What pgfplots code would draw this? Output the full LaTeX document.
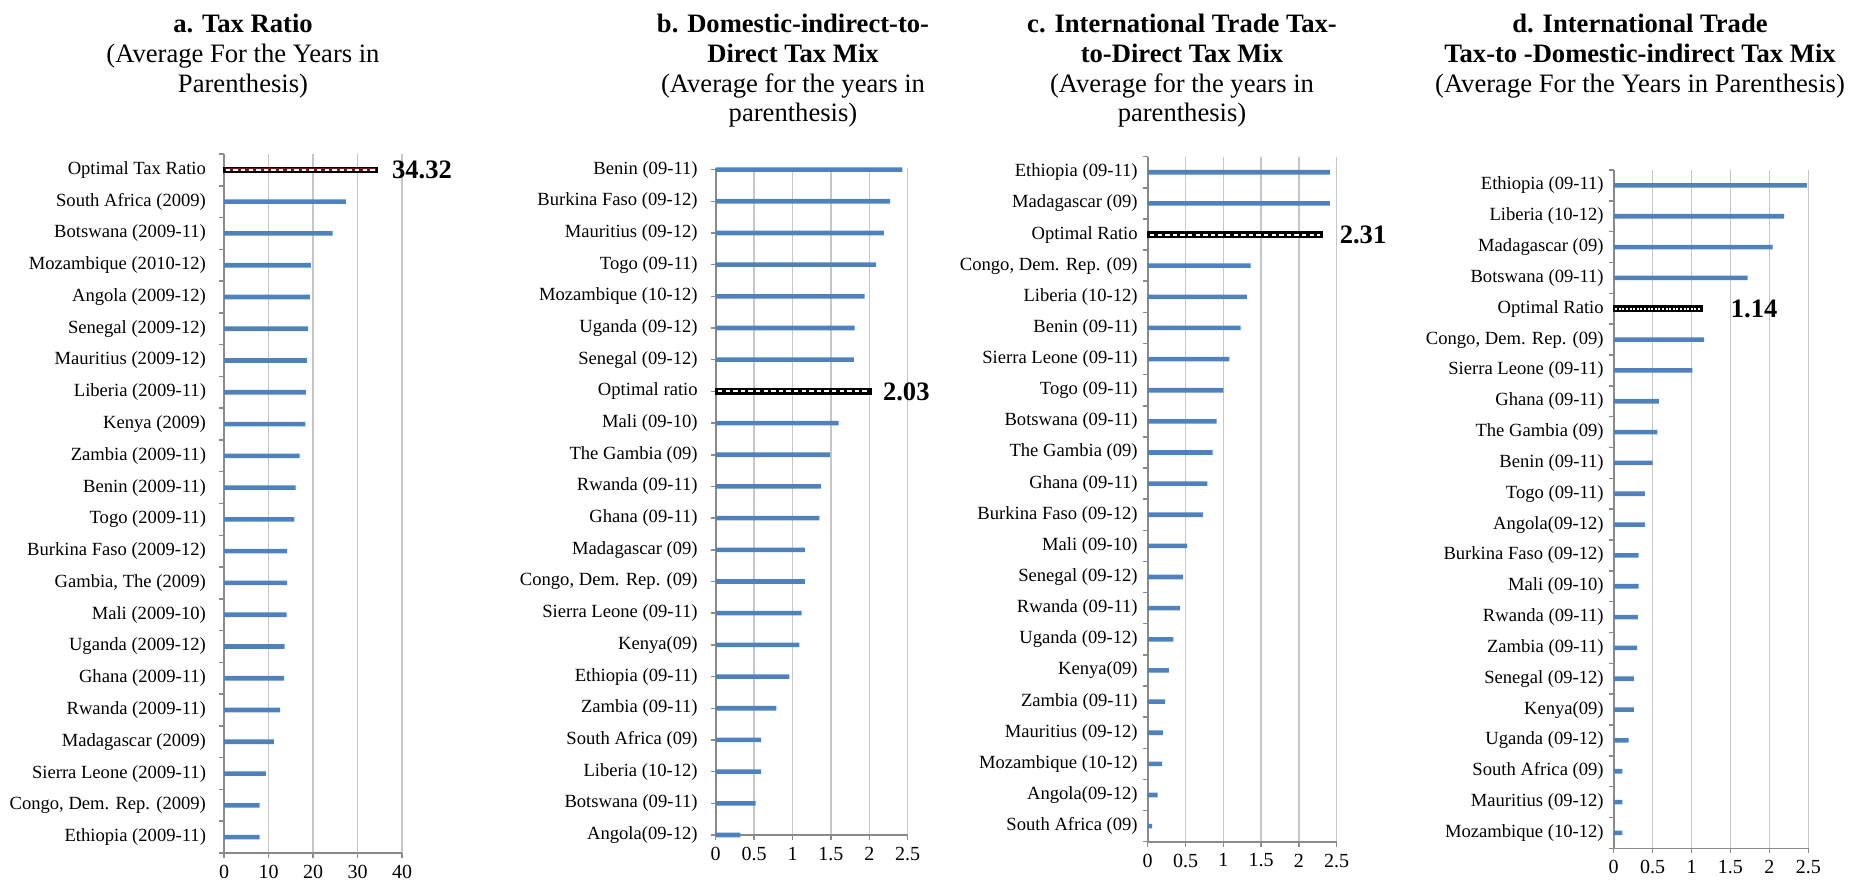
\documentclass[border=0pt]{standalone}
\usepackage{pgfplots}
\pgfplotsset{compat=1.18}
\usepackage{fontspec}
\setmainfont{Liberation Serif}
\definecolor{barblue}{HTML}{4F81BD}
\definecolor{gridgray}{HTML}{C6C6C6}
\definecolor{axisgray}{HTML}{8A8A8A}
\definecolor{optred}{HTML}{6E1A1A}
\pgfplotsset{
  panel/.style={
    scale only axis, clip=false,
    axis x line*=bottom, axis y line*=left,
    axis line style={-, draw=axisgray, line width=0.8pt},
    xmin=0, xmajorgrids, major grid style={draw=gridgray, line width=0.75pt},
    tick align=outside, major tick length=2.5pt, minor tick length=2.5pt,
    tick style={draw=axisgray, line width=0.75pt},
    xticklabel style={font=\fontsize{10}{12}\selectfont, /pgf/number format/assume math mode=true},
    yticklabel style={font=\fontsize{9.3}{11}\selectfont},
    ytick={0,...,21},
  },
  between/.style={ymin=-0.5, ymax=21.5, ytick style={draw=none},
    minor ytick={-0.5,0.5,...,21.5},
    every minor y tick/.append style={draw=axisgray, line width=0.75pt}},
  bars/.style={xbar, bar width=2.3pt, bar shift=0pt, fill=barblue, draw=none},
  optbar/.style={xbar, bar width=2.4pt, bar shift=0pt, fill=black, draw=black, line width=0.8pt},
  optdash/.style={white, line width=1pt, dash pattern=on 2.2pt off 1.6pt},
}
\newcommand{\vlab}{\bfseries\fontsize{13.3}{15}\selectfont}
\begin{document}
\begin{tikzpicture}
\path[use as bounding box] (0,0) rectangle (931.5pt,444.5pt);

% ---------------- Panel a
\begin{axis}[panel, between, at={(112pt,18pt)}, anchor=south west,
  width=89pt, height=349.5pt, xmax=40, xtick={0,10,20,30,40},
  yticklabels={{Ethiopia (2009-11)},{Congo, Dem. Rep. (2009)},{Sierra Leone (2009-11)},{Madagascar (2009)},{Rwanda (2009-11)},{Ghana (2009-11)},{Uganda (2009-12)},{Mali (2009-10)},{Gambia, The (2009)},{Burkina Faso (2009-12)},{Togo (2009-11)},{Benin (2009-11)},{Zambia (2009-11)},{Kenya (2009)},{Liberia (2009-11)},{Mauritius (2009-12)},{Senegal (2009-12)},{Angola (2009-12)},{Mozambique (2010-12)},{Botswana (2009-11)},{South Africa (2009)},{Optimal Tax Ratio}},
  yticklabel style={xshift=-3pt}]
\addplot[bars] coordinates {(8.0,0) (8.0,1) (9.4,2) (11.2,3) (12.6,4) (13.5,5) (13.6,6) (14.1,7) (14.2,8) (14.2,9) (15.8,10) (16.1,11) (17.0,12) (18.3,13) (18.4,14) (18.6,15) (18.9,16) (19.3,17) (19.5,18) (24.4,19) (27.4,20)};
\addplot[optbar, fill=optred] coordinates {(34.32,21)};
\addplot[optdash] coordinates {(0.4,21) (34.0,21)};
\node[anchor=west, inner sep=0pt, font=\vlab] at (axis cs:34.32,21) [xshift=7.5pt] {34.32};
\end{axis}

% ---------------- Panel b
\begin{axis}[panel, at={(357.85pt,27pt)}, anchor=south west,
  width=96pt, height=333.5pt, xmax=2.5, xtick={0,0.5,1,1.5,2,2.5},
  ymin=0, ymax=21.05,
  yticklabels={{Angola(09-12)},{Botswana (09-11)},{Liberia (10-12)},{South Africa (09)},{Zambia (09-11)},{Ethiopia (09-11)},{Kenya(09)},{Sierra Leone (09-11)},{Congo, Dem. Rep. (09)},{Madagascar (09)},{Ghana (09-11)},{Rwanda (09-11)},{The Gambia (09)},{Mali (09-10)},{Optimal ratio},{Senegal (09-12)},{Uganda (09-12)},{Mozambique (10-12)},{Togo (09-11)},{Mauritius (09-12)},{Burkina Faso (09-12)},{Benin (09-11)}},
  yticklabel style={xshift=-3pt}]
\addplot[bars] coordinates {(0.32,0) (0.52,1) (0.59,2) (0.59,3) (0.79,4) (0.96,5) (1.09,6) (1.12,7) (1.16,8) (1.16,9) (1.35,10) (1.37,11) (1.49,12) (1.60,13) (1.80,15) (1.81,16) (1.94,17) (2.09,18) (2.19,19) (2.27,20) (2.43,21)};
\addplot[optbar] coordinates {(2.03,14)};
\addplot[optdash] coordinates {(0.03,14) (2.0,14)};
\node[anchor=west, inner sep=0pt, font=\vlab] at (axis cs:2.03,14) [xshift=5.5pt] {2.03};
\end{axis}

% ---------------- Panel c
\begin{axis}[panel, between, at={(573.85pt,23.65pt)}, anchor=south west,
  width=94.5pt, height=342.5pt, xmax=2.5, xtick={0,0.5,1,1.5,2,2.5},
  yticklabels={{South Africa (09)},{Angola(09-12)},{Mozambique (10-12)},{Mauritius (09-12)},{Zambia (09-11)},{Kenya(09)},{Uganda (09-12)},{Rwanda (09-11)},{Senegal (09-12)},{Mali (09-10)},{Burkina Faso (09-12)},{Ghana (09-11)},{The Gambia (09)},{Botswana (09-11)},{Togo (09-11)},{Sierra Leone (09-11)},{Benin (09-11)},{Liberia (10-12)},{Congo, Dem. Rep. (09)},{Optimal Ratio},{Madagascar (09)},{Ethiopia (09-11)}},
  yticklabel style={xshift=1pt}]
\addplot[bars] coordinates {(0.06,0) (0.13,1) (0.19,2) (0.20,3) (0.23,4) (0.28,5) (0.34,6) (0.43,7) (0.47,8) (0.52,9) (0.73,10) (0.79,11) (0.86,12) (0.91,13) (1.00,14) (1.08,15) (1.23,16) (1.31,17) (1.36,18) (2.41,20) (2.41,21)};
\addplot[optbar] coordinates {(2.31,19)};
\addplot[optdash] coordinates {(0.03,19) (2.28,19)};
\node[anchor=west, inner sep=0pt, font=\vlab] at (axis cs:2.31,19) [xshift=8.5pt] {2.31};
\end{axis}

% ---------------- Panel d
\begin{axis}[panel, between, at={(806.85pt,20.35pt)}, anchor=south west,
  width=97.3pt, height=339.15pt, xmax=2.5, xtick={0,0.5,1,1.5,2,2.5},
  yticklabels={{Mozambique (10-12)},{Mauritius (09-12)},{South Africa (09)},{Uganda (09-12)},{Kenya(09)},{Senegal (09-12)},{Zambia (09-11)},{Rwanda (09-11)},{Mali (09-10)},{Burkina Faso (09-12)},{Angola(09-12)},{Togo (09-11)},{Benin (09-11)},{The Gambia (09)},{Ghana (09-11)},{Sierra Leone (09-11)},{Congo, Dem. Rep. (09)},{Optimal Ratio},{Botswana (09-11)},{Madagascar (09)},{Liberia (10-12)},{Ethiopia (09-11)}},
  yticklabel style={xshift=1pt}]
\addplot[bars] coordinates {(0.11,0) (0.11,1) (0.11,2) (0.19,3) (0.26,4) (0.26,5) (0.30,6) (0.31,7) (0.32,8) (0.32,9) (0.40,10) (0.40,11) (0.50,12) (0.56,13) (0.58,14) (1.01,15) (1.16,16) (1.72,18) (2.04,19) (2.19,20) (2.48,21)};
\addplot[optbar, bar width=2.8pt] coordinates {(1.14,17)};
\addplot[optdash, dash pattern=on 1pt off 0.8pt] coordinates {(0.02,17) (1.12,17)};
\node[anchor=west, inner sep=0pt, font=\vlab] at (axis cs:1.14,17) [xshift=14pt] {1.14};
\end{axis}

% ---------------- Titles
\begin{scope}[every node/.style={anchor=north, align=center, inner sep=0pt, font=\fontsize{13.3}{14.8}\selectfont}]
\node at (121.5pt,437.5pt) {\textbf{a. Tax Ratio}\\(Average For the Years in\\Parenthesis)};
\node at (396.5pt,437.5pt) {\textbf{b. Domestic-indirect-to-}\\\textbf{Direct Tax Mix}\\(Average for the years in\\parenthesis)};
\node at (591pt,437.5pt) {\textbf{c. International Trade Tax-}\\\textbf{to-Direct Tax Mix}\\(Average for the years in\\parenthesis)};
\node at (820pt,437.5pt) {\textbf{d. International Trade}\\\textbf{Tax-to -Domestic-indirect Tax Mix}\\(Average For the Years in Parenthesis)};
\end{scope}
\end{tikzpicture}
\end{document}
